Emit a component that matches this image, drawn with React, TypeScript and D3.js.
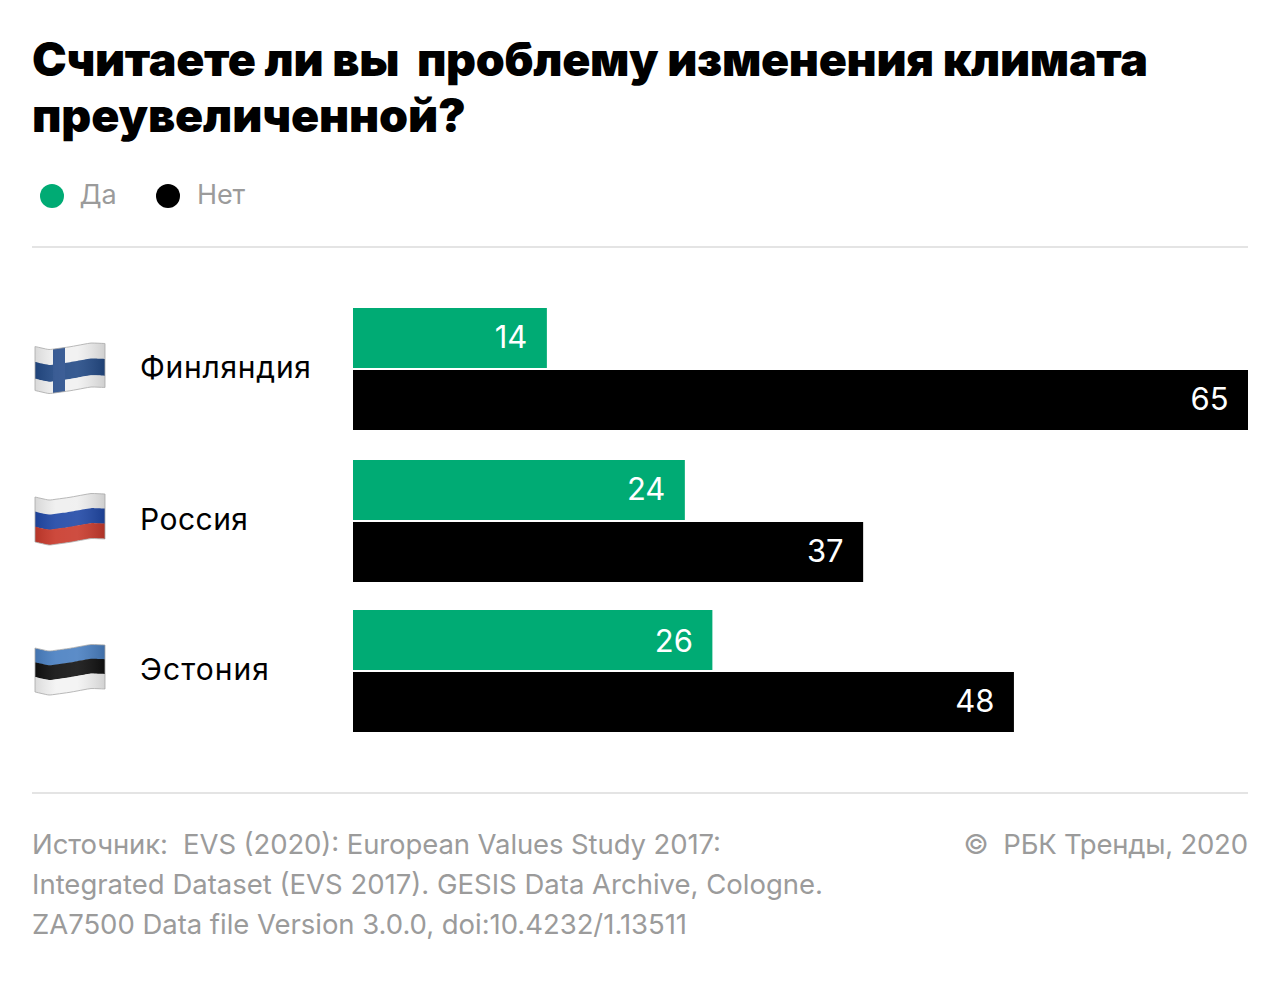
import React from "react";
import * as d3 from "d3";

const categories = ["Финляндия", "Россия", "Эстония"];
const yesValues = [14.08, 24.1, 26.1];
const noValues = [65, 37.05, 48];
const titleLines = ["Считаете ли вы  проблему изменения климата", "преувеличенной?"];
const sourceLines = [
  "Источник:  EVS (2020): European Values Study 2017:",
  "Integrated Dataset (EVS 2017). GESIS Data Archive, Cologne.",
  "ZA7500 Data file Version 3.0.0, doi:10.4232/1.13511",
];
const copyright = "©  РБК Тренды, 2020";
const waveT = [0, 0.2, 0.5, 0.8, 1];
const waveOffset = [0, 3.2, 0.3, -3.6, -3];
const flagBands = [
  ["#f1f1f1", "#234a86", "#f1f1f1"],
  ["#efefef", "#2048a6", "#c93a2c"],
  ["#4a80c2", "#101010", "#f3f3f3"],
];

const GREEN = "#00ab74";
const GREY = "#9b9b9b";
const RULE = "#e4e4e4";
const font = "Inter, Roboto, 'Noto Sans', sans-serif";
const groupTops = [308, 460, 610];
const flagTops = [346.5, 497, 648];
const flagHeights = [44, 45, 44];
const titleWidths = [1116, 434];
const sourceWidths = [689, 791, 655];
const categoryWidths = [171, 108, 129];
const flagL = 35;
const flagR = 105;

const x = d3.scaleLinear().domain([0, 65]).range([353, 1248]);
const fx = d3.scaleLinear().domain([0, 1]).range([flagL, flagR]);
const offset = d3.scaleLinear().domain(waveT).range(waveOffset);
const samples = d3.range(0, 1.001, 0.05);

function Flag({ i }: { i: number }) {
  const top = flagTops[i];
  const h = flagHeights[i];
  const band = (a: number, b: number) =>
    d3.area<number>()
      .x((t) => fx(t))
      .y0((t) => top + a + offset(t))
      .y1((t) => top + b + offset(t))
      .curve(d3.curveBasis)(samples)!;
  const whole = band(0, h);
  const id = `flag-clip-${i}`;
  return (
    <g>
      <defs>
        <clipPath id={id}><path d={whole} /></clipPath>
      </defs>
      <g clipPath={`url(#${id})`}>
        {flagBands[i].map((c, k) => {
          const a = i === 0 ? [0, 0.36, 0.74][k] : k / 3;
          const b = i === 0 ? [0.36, 0.74, 1][k] : (k + 1) / 3;
          return <path key={k} d={band(a * h - (k ? 0.4 : 0), b * h)} fill={c} />;
        })}
        {i === 0 && <rect x={53} y={top - 8} width={12} height={h + 16} fill="#2a4f8c" />}
        <rect x={flagL} y={top - 8} width={flagR - flagL} height={h + 16} fill="url(#flag-sheen)" />
      </g>
      <path d={whole} fill="none" stroke="#a8a8a8" strokeWidth={1} strokeOpacity={0.8} />
    </g>
  );
}

export default function App() {
  const pre = { whiteSpace: "pre" } as React.CSSProperties;
  return (
    <svg width={1280} height={986} style={{ position: "absolute", left: 0, top: 0, background: "#fff" }} fontFamily={font}>
      <defs>
        <linearGradient id="flag-sheen" x1="0" x2="1" y1="0" y2="0">
          <stop offset="0" stopColor="#000" stopOpacity={0.1} />
          <stop offset="0.3" stopColor="#fff" stopOpacity={0.08} />
          <stop offset="0.6" stopColor="#fff" stopOpacity={0.1} />
          <stop offset="1" stopColor="#000" stopOpacity={0.14} />
        </linearGradient>
      </defs>
      {titleLines.map((t, i) => (
        <text key={i} x={32} y={76 + i * 56} fontSize={46.5} fontWeight={900} fill="#000" style={pre} textLength={titleWidths[i]}>{t}</text>
      ))}
      <circle cx={52} cy={196} r={12} fill={GREEN} />
      <text x={79.5} y={204} fontSize={27} fill={GREY}>Да</text>
      <circle cx={168} cy={196} r={12} fill="#000" />
      <text x={197} y={204} fontSize={27} fill={GREY} textLength={48}>Нет</text>
      <line x1={32} x2={1248} y1={247} y2={247} stroke={RULE} strokeWidth={2} />
      {categories.map((c, i) => {
        const top = groupTops[i];
        return (
          <g key={c}>
            <Flag i={i} />
            <text x={140} y={top + 70} fontSize={30} fill="#000" textLength={categoryWidths[i]}>{c}</text>
            <rect x={x(0)} y={top} width={x(yesValues[i]) - x(0)} height={60} fill={GREEN} />
            <text x={x(yesValues[i]) - 19.5} y={top + 40 + (i === 2 ? 1.5 : 0)} fontSize={31} fill="#fff" textAnchor="end">{Math.round(yesValues[i])}</text>
            <rect x={x(0)} y={top + 62} width={x(noValues[i]) - x(0)} height={60} fill="#000" />
            <text x={x(noValues[i]) - 19.5} y={top + 102} fontSize={31} fill="#fff" textAnchor="end">{Math.round(noValues[i])}</text>
          </g>
        );
      })}
      <line x1={32} x2={1248} y1={793} y2={793} stroke={RULE} strokeWidth={2} />
      {sourceLines.map((t, i) => (
        <text key={i} x={32} y={854 + i * 40} fontSize={27.5} fill={GREY} style={pre} textLength={sourceWidths[i]}>{t}</text>
      ))}
      <text x={963.5} y={854} fontSize={27.5} fill={GREY} style={pre} textLength={284.5}>{copyright}</text>
    </svg>
  );
}
